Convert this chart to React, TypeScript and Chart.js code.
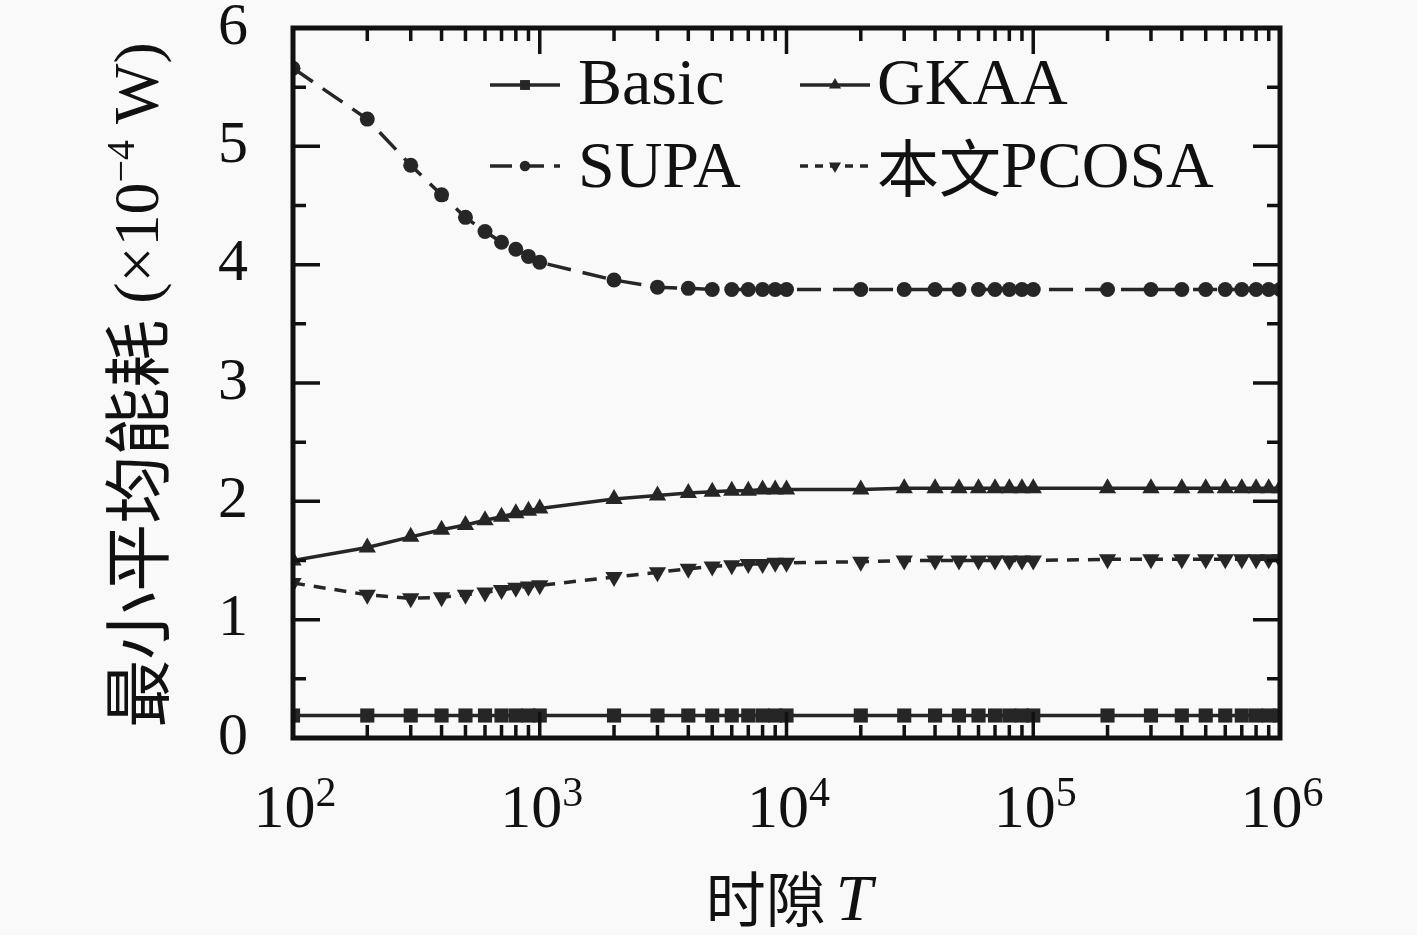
import React, { useEffect, useRef } from "react";
import Chart from "chart.js/auto";
import { drawPoint } from "chart.js/helpers";

// time slots T (1..9 x 10^k)
const slots = [
  100, 200, 300, 400, 500, 600, 700, 800, 900,
  1000, 2000, 3000, 4000, 5000, 6000, 7000, 8000, 9000,
  10000, 20000, 30000, 40000, 50000, 60000, 70000, 80000, 90000,
  100000, 200000, 300000, 400000, 500000, 600000, 700000, 800000, 900000,
  1000000,
];

// minimum average energy (x10^-4 W)
const basic = [
  0.19, 0.19, 0.19, 0.19, 0.19, 0.19, 0.19, 0.19, 0.19,
  0.19, 0.19, 0.19, 0.19, 0.19, 0.19, 0.19, 0.19, 0.19,
  0.19, 0.19, 0.19, 0.19, 0.19, 0.19, 0.19, 0.19, 0.19,
  0.19, 0.19, 0.19, 0.19, 0.19, 0.19, 0.19, 0.19, 0.19,
  0.19,
];
const supa = [
  5.66, 5.23, 4.84, 4.59, 4.40, 4.28, 4.19, 4.13, 4.07,
  4.02, 3.87, 3.81, 3.80, 3.79, 3.79, 3.79, 3.79, 3.79,
  3.79, 3.79, 3.79, 3.79, 3.79, 3.79, 3.79, 3.79, 3.79,
  3.79, 3.79, 3.79, 3.79, 3.79, 3.79, 3.79, 3.79, 3.79,
  3.79,
];
const gkaa = [
  1.50, 1.61, 1.70, 1.76, 1.80, 1.84, 1.87, 1.90, 1.92,
  1.94, 2.02, 2.05, 2.07, 2.08, 2.09, 2.09, 2.10, 2.10,
  2.10, 2.10, 2.11, 2.11, 2.11, 2.11, 2.11, 2.11, 2.11,
  2.11, 2.11, 2.11, 2.11, 2.11, 2.11, 2.11, 2.11, 2.11,
  2.11,
];
const pcosa = [
  1.31, 1.21, 1.18, 1.19, 1.21, 1.23, 1.25, 1.27, 1.28,
  1.29, 1.36, 1.40, 1.43, 1.45, 1.46, 1.47, 1.47, 1.48,
  1.48, 1.49, 1.50, 1.50, 1.50, 1.50, 1.50, 1.50, 1.50,
  1.50, 1.51, 1.51, 1.51, 1.51, 1.51, 1.51, 1.51, 1.51,
  1.51,
];

const xTickExps = [2, 3, 4, 5, 6];

const INK = "#262626";
const SERIF = "'Liberation Serif', 'DejaVu Serif', serif";
const CJK = "'Noto Sans CJK SC', sans-serif";

type Part = { text: string; font: string; dy?: number };

function partsWidth(ctx: CanvasRenderingContext2D, parts: Part[]) {
  let w = 0;
  for (const p of parts) {
    ctx.font = p.font;
    w += ctx.measureText(p.text).width;
  }
  return w;
}

function drawParts(ctx: CanvasRenderingContext2D, parts: Part[], x: number, y: number) {
  let cx = x;
  for (const p of parts) {
    ctx.font = p.font;
    ctx.fillText(p.text, cx, y + (p.dy || 0));
    cx += ctx.measureText(p.text).width;
  }
}

const decorPlugin = {
  id: "decor",
  beforeDraw(chart: any) {
    const { ctx, width, height } = chart;
    ctx.save();
    ctx.fillStyle = "#f9f9f9";
    ctx.fillRect(0, 0, width, height);
    ctx.restore();
  },
  afterDraw(chart: any) {
    const { ctx, chartArea: a, scales } = chart;
    const xs = scales.x;
    const ys = scales.y;
    ctx.save();
    ctx.strokeStyle = "#111";
    ctx.fillStyle = "#111";

    // frame
    ctx.lineWidth = 5;
    ctx.strokeRect(a.left, a.top, a.right - a.left, a.bottom - a.top);

    // inward ticks on x (bottom & top)
    ctx.lineWidth = 3.5;
    ctx.beginPath();
    slots.forEach((v) => {
      const px = xs.getPixelForValue(v);
      const major = Math.abs(Math.log10(v) - Math.round(Math.log10(v))) < 1e-9;
      const len = major ? 26 : 13;
      ctx.moveTo(px, a.bottom);
      ctx.lineTo(px, a.bottom - len);
      ctx.moveTo(px, a.top);
      ctx.lineTo(px, a.top + len);
    });
    // inward ticks on y (left & right)
    for (let i = 0; i <= 12; i++) {
      const v = i / 2;
      const py = ys.getPixelForValue(v);
      const len = i % 2 === 0 ? 27 : 13;
      ctx.moveTo(a.left, py);
      ctx.lineTo(a.left + len, py);
      ctx.moveTo(a.right, py);
      ctx.lineTo(a.right - len, py);
    }
    ctx.stroke();

    // x tick labels 10^k
    ctx.textBaseline = "alphabetic";
    ctx.textAlign = "left";
    xTickExps.forEach((e) => {
      const px = xs.getPixelForValue(Math.pow(10, e));
      const parts: Part[] = [
        { text: "10", font: `62px ${SERIF}` },
        { text: String(e), font: `42px ${SERIF}`, dy: -21 },
      ];
      const w = partsWidth(ctx, parts);
      drawParts(ctx, parts, px - w / 2 + 2, 827);
    });

    // x title
    {
      const parts: Part[] = [
        { text: "时隙", font: `60px ${CJK}`, dy: 2 },
        { text: " ", font: `40px ${SERIF}` },
        { text: "T", font: `italic 66px ${SERIF}` },
      ];
      const w = partsWidth(ctx, parts);
      drawParts(ctx, parts, 789 - w / 2, 920);
    }

    // y title (rotated)
    {
      ctx.save();
      ctx.translate(158, 385);
      ctx.rotate(-Math.PI / 2);
      const parts: Part[] = [
        { text: "最小平均能耗", font: `68px ${CJK}`, dy: 5 },
        { text: " (×10", font: `64px ${SERIF}` },
        { text: "−4", font: `40px ${SERIF}`, dy: -24 },
        { text: " W)", font: `64px ${SERIF}` },
      ];
      const w = partsWidth(ctx, parts);
      drawParts(ctx, parts, -w / 2, 0);
      ctx.restore();
    }

    // legend, two columns
    const cols = [
      { lineX: 490, textX: 578 },
      { lineX: 800, textX: 877 },
    ];
    const rows = [
      { lineY: 85, base: 104 },
      { lineY: 166, base: 187 },
    ];
    const labels: Part[][] = [
      [{ text: "Basic", font: `66px ${SERIF}` }],
      [{ text: "SUPA", font: `66px ${SERIF}` }],
      [{ text: "GKAA", font: `66px ${SERIF}` }],
      [
        { text: "本文", font: `62px ${CJK}`, dy: 5 },
        { text: "PCOSA", font: `66px ${SERIF}` },
      ],
    ];
    chart.data.datasets.forEach((ds: any, i: number) => {
      const c = cols[Math.floor(i / 2)];
      const r = rows[i % 2];
      ctx.save();
      ctx.strokeStyle = ds.borderColor;
      ctx.lineWidth = 3.5;
      ctx.setLineDash(ds.legendDash || []);
      ctx.beginPath();
      ctx.moveTo(c.lineX, r.lineY);
      ctx.lineTo(c.lineX + 70, r.lineY);
      ctx.stroke();
      ctx.setLineDash([]);
      ctx.fillStyle = ds.pointBackgroundColor;
      ctx.strokeStyle = ds.pointBackgroundColor;
      drawPoint(
        ctx,
        {
          pointStyle: ds.pointStyle,
          rotation: ds.pointRotation || 0,
          radius: ds.pointRadius * 0.7,
          borderWidth: 0,
        } as any,
        c.lineX + 35,
        r.lineY
      );
      ctx.fillStyle = "#111";
      drawParts(ctx, labels[i], c.textX, r.base);
      ctx.restore();
    });

    ctx.restore();
  },
};

function series(values: number[]) {
  return slots.map((x, i) => ({ x, y: values[i] }));
}

export default function App() {
  const canvasRef = useRef<HTMLCanvasElement>(null!);

  useEffect(() => {
    const el = canvasRef.current;
    Chart.getChart(el)?.destroy();

    const common = {
      borderColor: INK,
      pointBackgroundColor: INK,
      pointBorderColor: INK,
      pointBorderWidth: 0,
      borderWidth: 3.5,
      tension: 0,
      fill: false,
    };

    const chart = new Chart(el, {
      type: "line",
      data: {
        datasets: [
          {
            ...common,
            label: "Basic",
            data: series(basic),
            pointStyle: "rect",
            pointRadius: 10,
          },
          {
            ...common,
            label: "SUPA",
            data: series(supa),
            borderDash: [24, 12],
            legendDash: [22, 10],
            pointStyle: "circle",
            pointRadius: 7.5,
          },
          {
            ...common,
            label: "GKAA",
            data: series(gkaa),
            pointStyle: "triangle",
            pointRadius: 10,
          },
          {
            ...common,
            label: "本文PCOSA",
            data: series(pcosa),
            borderDash: [12, 9],
            legendDash: [8, 7],
            pointStyle: "triangle",
            pointRotation: 180,
            pointRadius: 10,
          },
        ] as any,
      },
      options: {
        animation: false,
        responsive: false,
        devicePixelRatio: 1,
        layout: { padding: { top: 28, right: 137, left: 0, bottom: 0 } },
        plugins: {
          legend: { display: false },
          tooltip: { enabled: false },
        },
        scales: {
          x: {
            type: "logarithmic",
            min: 100,
            max: 1000000,
            grid: { display: false, drawTicks: false },
            border: { display: false },
            ticks: { display: false },
            afterFit: (s: any) => {
              s.height = 197;
              s.paddingLeft = 0;
              s.paddingRight = 0;
            },
          },
          y: {
            min: 0,
            max: 6,
            grid: { display: false, drawTicks: false },
            border: { display: false },
            ticks: {
              stepSize: 1,
              padding: 45,
              color: "#111",
              font: { family: SERIF, size: 60 },
              callback: (v: any) => String(v),
            },
            afterFit: (s: any) => {
              s.width = 293;
              s.paddingTop = 0;
              s.paddingBottom = 0;
            },
          },
        },
      },
      plugins: [decorPlugin],
    });

    return () => {
      chart.destroy();
    };
  }, []);

  return (
    <div style={{ position: "absolute", left: 0, top: 0, width: 1417, height: 935 }}>
      <canvas ref={canvasRef} width={1417} height={935} />
    </div>
  );
}
